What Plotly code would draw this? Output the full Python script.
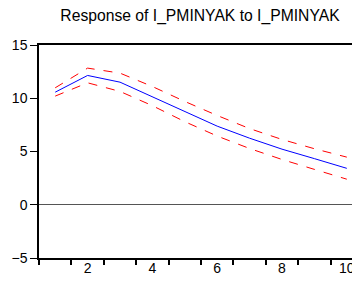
import plotly.graph_objects as go

periods = [1, 2, 3, 4, 5, 6, 7, 8, 9, 10]
response = [10.57, 12.14, 11.51, 10.15, 8.75, 7.38, 6.25, 5.22, 4.33, 3.42]
upper = [10.98, 12.83, 12.36, 11.10, 9.70, 8.38, 7.15, 6.13, 5.26, 4.47]
lower = [10.20, 11.45, 10.64, 9.30, 7.80, 6.45, 5.28, 4.25, 3.32, 2.40]
x_ticks = [2, 4, 6, 8, 10]
y_ticks = [-5, 0, 5, 10, 15]
title = "Response of I_PMINYAK to I_PMINYAK"

fig = go.Figure()
fig.add_trace(go.Scatter(x=periods, y=upper, mode="lines",
                         line=dict(color="red", width=1, dash="dash"), showlegend=False))
fig.add_trace(go.Scatter(x=periods, y=lower, mode="lines",
                         line=dict(color="red", width=1, dash="dash"), showlegend=False))
fig.add_trace(go.Scatter(x=periods, y=response, mode="lines",
                         line=dict(color="blue", width=1), showlegend=False))

fig.update_layout(
    width=352, height=284,
    margin=dict(l=39, r=0, t=45, b=26, autoexpand=False),
    paper_bgcolor="white", plot_bgcolor="white",
    font=dict(family="Liberation Sans, Arial, sans-serif", size=14, color="black"),
    title=dict(text=title, x=200 / 352, xref="container", xanchor="center",
               y=1 - 16 / 284, yref="container", yanchor="middle",
               automargin=False,
               font=dict(size=15.7, color="black")),
    xaxis=dict(range=[0.5, 0.5 + 313 / 32.4], tickvals=x_ticks, ticks="",
               ticklen=0, ticklabeloverflow="allow", ticklabelstandoff=-4,
               automargin=False,
               showgrid=False, zeroline=False, showline=True, linecolor="black",
               linewidth=1.5, mirror=True,
               minor=dict(tick0=0.5, dtick=1, ticks="outside", ticklen=5,
                          tickcolor="black", tickwidth=1.5, showgrid=False)),
    yaxis=dict(range=[-5, 15], tickvals=y_ticks, ticks="outside", ticklen=7,
               automargin=False,
               tickcolor="black", tickwidth=1, showgrid=False,
               zeroline=True, zerolinecolor="#555555", zerolinewidth=1,
               showline=True, linecolor="black", linewidth=1.5, mirror=False),
)

fig.write_html("out.html", config={"displayModeBar": False},
               post_script="document.body.style.margin='0';document.body.style.overflow='hidden';")
